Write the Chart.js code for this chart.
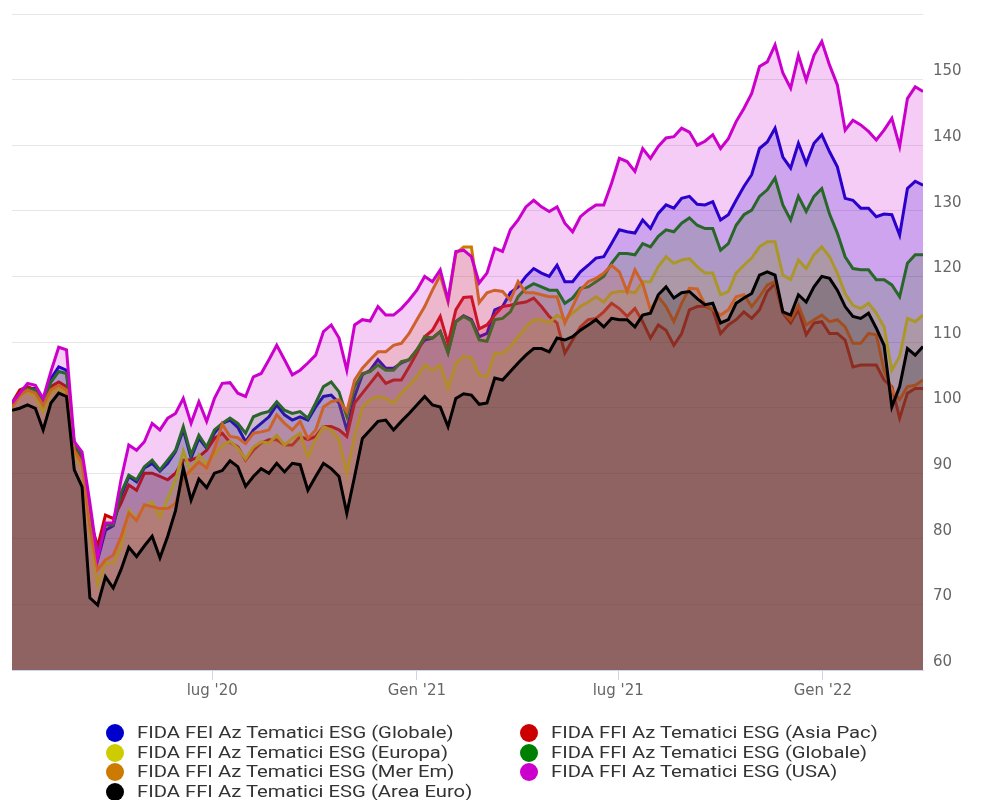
<!DOCTYPE html>
<html>
<head>
<meta charset="utf-8">
<script src="https://cdn.jsdelivr.net/npm/chart.js@4/dist/chart.umd.min.js"></script>
<style>
html,body{margin:0;padding:0;background:#ffffff;}
#wrap{position:relative;width:992px;height:800px;overflow:hidden;}
#c{position:absolute;left:0;top:0;}
#legend{position:absolute;left:0;top:0;width:992px;height:800px;font-family:Roboto,"Liberation Sans",sans-serif;font-size:16px;color:#333333;}
.dot{position:absolute;width:18px;height:18px;border-radius:50%;}
.lbl{position:absolute;white-space:nowrap;line-height:20px;transform:scaleX(1.265);transform-origin:0 50%;}
</style>
</head>
<body>
<div id="wrap">
<canvas id="c" width="992" height="710"></canvas>
<div id="legend"></div>
</div>
<script>
const dates = [
'2020-01-03','2020-01-10','2020-01-17','2020-01-24','2020-01-31','2020-02-07','2020-02-14','2020-02-21','2020-02-28','2020-03-06',
'2020-03-13','2020-03-20','2020-03-27','2020-04-03','2020-04-10','2020-04-17','2020-04-24','2020-05-01','2020-05-08','2020-05-15',
'2020-05-22','2020-05-29','2020-06-05','2020-06-12','2020-06-19','2020-06-26','2020-07-03','2020-07-10','2020-07-17','2020-07-24',
'2020-07-31','2020-08-07','2020-08-14','2020-08-21','2020-08-28','2020-09-04','2020-09-11','2020-09-18','2020-09-25','2020-10-02',
'2020-10-09','2020-10-16','2020-10-23','2020-10-30','2020-11-06','2020-11-13','2020-11-20','2020-11-27','2020-12-04','2020-12-11',
'2020-12-18','2020-12-25','2021-01-01','2021-01-08','2021-01-15','2021-01-22','2021-01-29','2021-02-05','2021-02-12','2021-02-19',
'2021-02-26','2021-03-05','2021-03-12','2021-03-19','2021-03-26','2021-04-02','2021-04-09','2021-04-16','2021-04-23','2021-04-30',
'2021-05-07','2021-05-14','2021-05-21','2021-05-28','2021-06-04','2021-06-11','2021-06-18','2021-06-25','2021-07-02','2021-07-09',
'2021-07-16','2021-07-23','2021-07-30','2021-08-06','2021-08-13','2021-08-20','2021-08-27','2021-09-03','2021-09-10','2021-09-17',
'2021-09-24','2021-10-01','2021-10-08','2021-10-15','2021-10-22','2021-10-29','2021-11-05','2021-11-12','2021-11-19','2021-11-26',
'2021-12-03','2021-12-10','2021-12-17','2021-12-24','2021-12-31','2022-01-07','2022-01-14','2022-01-21','2022-01-28','2022-02-04',
'2022-02-11','2022-02-18','2022-02-25','2022-03-04','2022-03-11','2022-03-18','2022-03-25','2022-04-01'
];

const tickDates = ['2020-07-01','2021-01-01','2021-07-01','2022-01-01'];
const tickLabels = ["lug '20", "Gen '21", "lug '21", "Gen '22"];

const seriesNames = [
'FIDA FEI Az Tematici ESG (Globale)',
'FIDA FFI Az Tematici ESG (Asia Pac)',
'FIDA FFI Az Tematici ESG (Europa)',
'FIDA FFI Az Tematici ESG (Globale)',
'FIDA FFI Az Tematici ESG (Mer Em)',
'FIDA FFI Az Tematici ESG (USA)',
'FIDA FFI Az Tematici ESG (Area Euro)'
];
const seriesColors = ['#0000cc','#cc0000','#cccc00','#008000','#cc7a00','#cc00cc','#000000'];

const feiGlobale = [
100.4,101.9,102.9,102.9,100.9,104.4,106.2,105.7,94.2,92.3,
84.0,76.8,81.3,82.0,86.5,89.5,88.7,90.8,91.5,90.3,
91.5,93.3,96.6,92.3,95.3,93.8,96.1,97.6,98.1,97.0,
94.8,96.6,97.6,98.6,100.4,98.9,98.1,98.6,98.1,100.1,
101.7,101.9,100.7,96.6,101.7,105.0,105.7,107.3,106.0,106.0,
106.8,107.3,108.8,110.3,110.6,111.6,108.5,113.1,114.0,113.4,
110.8,111.3,114.9,115.4,117.5,118.4,120.0,121.2,120.5,120.0,
121.7,119.2,119.2,120.7,121.7,122.8,123.0,125.0,127.1,126.8,
126.6,128.6,127.3,129.6,130.9,130.4,131.9,132.2,131.0,130.9,
131.4,128.6,129.4,131.6,133.7,135.5,139.5,140.5,142.6,138.2,
136.5,140.3,137.2,140.3,141.6,139.0,136.7,131.9,131.6,130.4,
130.4,129.1,129.5,129.4,126.3,133.4,134.5,133.9
];
const asiaPac = [
100.7,102.7,103.2,102.7,100.9,103.2,103.9,103.2,94.0,92.0,
83.0,78.8,83.6,83.1,85.4,88.2,87.4,90.0,90.0,89.5,
89.0,90.0,92.0,92.0,92.5,93.5,95.3,96.1,94.7,94.0,
92.0,93.5,94.6,95.1,95.1,94.3,94.3,95.6,95.1,95.6,
97.1,97.1,96.6,95.6,100.7,102.2,103.7,105.2,103.7,104.2,
104.2,106.2,108.3,110.8,111.8,113.9,109.8,114.9,116.8,116.9,
112.0,112.6,114.1,115.4,115.6,115.9,116.1,116.7,115.4,113.9,
112.9,108.3,110.3,112.3,113.4,113.6,114.6,115.9,115.1,113.9,
115.1,113.1,110.6,112.6,111.8,109.5,111.3,114.9,115.4,115.5,
114.9,111.3,112.6,113.4,114.6,113.6,114.9,117.7,118.9,114.4,
112.9,114.9,111.1,112.9,113.1,111.3,111.3,110.3,106.2,106.5,
106.5,106.5,104.2,103.2,98.4,102.2,102.9,102.9
];
const europa = [
100.0,101.7,102.4,101.7,99.4,102.2,102.9,102.2,93.0,90.8,
81.0,73.0,76.3,76.3,78.8,84.4,83.0,85.0,85.6,83.3,
86.2,88.9,93.4,90.2,92.8,91.4,92.9,94.2,94.9,93.8,
92.2,94.0,94.8,94.6,95.8,94.3,95.3,96.1,92.5,95.1,
97.1,96.6,95.1,90.0,95.6,100.1,101.2,101.7,101.4,100.7,
102.2,103.4,104.7,106.5,105.7,106.5,102.9,106.8,107.8,107.6,
105.0,104.7,108.3,108.3,109.3,110.8,112.3,113.4,113.4,112.9,
114.1,113.4,114.4,115.4,116.1,116.9,116.1,117.5,117.7,117.7,
117.5,119.2,119.2,121.5,123.0,122.0,122.5,122.7,121.5,120.5,
120.5,117.2,117.7,120.5,121.7,122.8,124.5,125.3,125.3,120.2,
119.5,122.5,121.2,123.3,124.5,123.0,120.5,117.4,115.6,115.1,
115.9,114.4,112.3,105.7,107.8,113.6,113.1,114.1
];
const ffiGlobale = [
100.4,102.2,102.9,102.7,100.7,103.9,105.5,105.2,94.5,92.5,
83.5,77.5,82.1,82.1,87.0,89.7,89.0,91.0,92.0,90.5,
92.0,93.5,97.1,92.8,95.8,94.0,96.6,97.6,98.4,97.6,
96.1,98.6,99.1,99.4,100.9,99.6,99.1,99.4,98.4,100.7,
103.2,103.9,102.4,98.6,103.2,105.2,105.5,106.5,105.7,105.7,
107.0,107.3,108.8,110.8,110.6,111.6,108.3,113.1,113.9,113.2,
110.3,110.1,113.4,113.6,114.6,116.9,118.2,118.9,118.4,117.9,
117.9,115.9,116.7,118.2,118.4,119.2,120.0,122.0,123.5,123.5,
123.3,125.0,124.5,126.1,127.1,126.8,128.1,128.9,127.8,127.3,
127.3,124.0,125.0,127.8,129.4,130.1,132.2,133.2,135.0,130.9,
128.6,132.2,129.9,132.2,133.4,129.5,126.6,123.0,121.2,121.0,
121.0,119.5,119.5,118.7,116.9,122.0,123.3,123.3
];
const merEm = [
100.0,101.9,102.7,102.2,100.4,102.7,103.4,102.7,93.5,91.5,
82.0,75.3,76.8,77.5,80.3,83.9,82.8,85.2,84.9,84.6,
84.6,85.4,89.3,90.5,91.7,90.8,93.7,97.5,95.6,95.4,
94.5,96.1,96.3,96.6,98.9,97.6,96.6,97.9,95.3,96.6,
100.1,100.9,101.2,99.4,104.2,106.0,107.3,108.5,108.5,109.5,
109.8,111.3,113.4,115.4,117.9,120.2,116.1,123.5,124.5,124.5,
116.0,117.5,117.9,117.7,116.4,119.2,117.5,117.5,117.2,116.9,
116.9,112.9,115.4,117.9,119.2,119.7,120.5,121.7,120.7,117.7,
121.0,118.9,114.9,116.9,115.4,113.1,115.9,118.2,118.1,115.7,
114.9,114.1,114.9,116.9,117.2,115.4,116.9,118.7,119.2,114.6,
113.4,115.6,112.6,113.4,114.1,113.1,113.4,112.3,109.8,109.8,
111.3,111.1,105.7,102.7,101.2,103.2,103.4,104.2
];
const usa = [
100.7,102.2,103.7,103.4,101.4,105.5,109.2,108.8,94.8,93.2,
85.5,77.0,82.4,82.4,89.0,94.3,93.5,94.8,97.6,96.6,
98.4,99.1,101.4,97.6,100.9,97.9,101.4,103.7,103.8,102.2,
101.7,104.7,105.2,107.3,109.5,107.3,105.0,105.7,106.8,108.0,
111.6,112.6,110.6,105.7,112.6,113.4,113.2,115.4,114.1,114.1,
115.1,116.4,117.9,120.0,119.2,121.0,116.4,123.8,124.0,123.0,
119.0,120.5,124.3,123.8,127.1,128.6,130.6,131.6,130.6,129.9,
130.6,128.1,126.8,129.1,130.1,130.9,130.9,134.2,138.0,137.5,
136.0,139.5,138.0,139.8,141.1,141.3,142.6,142.0,140.0,140.6,
141.6,139.5,141.0,143.6,145.6,147.9,152.0,152.7,155.3,151.0,
148.7,153.7,149.9,153.7,155.8,152.2,149.2,142.3,143.8,143.1,
142.1,140.8,142.3,144.1,139.8,147.1,148.9,148.2
];
const areaEuro = [
99.6,99.9,100.4,99.9,96.6,100.7,102.2,101.7,90.5,87.9,
71.0,69.9,74.2,72.5,75.3,78.7,77.3,78.9,80.4,77.1,
80.4,84.3,90.8,85.9,89.1,87.8,90.0,90.4,91.9,91.0,
88.0,89.5,90.7,90.0,91.5,90.2,91.5,91.3,87.4,89.5,
91.5,90.7,89.5,83.9,89.5,95.3,96.6,97.9,98.1,96.6,
97.9,99.1,100.4,101.7,100.4,100.1,97.1,101.4,102.1,101.9,
100.5,100.7,104.5,104.2,105.5,106.8,108.0,109.0,109.0,108.5,
110.6,110.3,110.8,111.8,112.6,113.4,112.3,113.6,113.4,113.4,
112.3,114.1,114.4,117.2,118.4,116.7,117.5,117.7,116.6,115.7,
115.9,112.9,113.4,115.9,116.7,117.4,120.2,120.7,120.2,114.6,
114.1,117.2,116.1,118.4,120.0,119.7,117.9,115.4,113.9,113.6,
114.4,112.1,109.5,100.1,103.2,109.0,108.0,109.3
];

const seriesValues = [feiGlobale, asiaPac, europa, ffiGlobale, merEm, usa, areaEuro];

const DAY = 86400000;
const t0 = Date.parse(dates[0]);
const dayOf = d => (Date.parse(d) - t0) / DAY;
const xs = dates.map(dayOf);
const tickXs = tickDates.map(dayOf);

function rgba(hex, a) {
  const n = parseInt(hex.slice(1), 16);
  return 'rgba(' + ((n >> 16) & 255) + ',' + ((n >> 8) & 255) + ',' + (n & 255) + ',' + a + ')';
}

const datasets = seriesValues.map((vals, k) => ({
  label: seriesNames[k],
  data: vals.map((v, i) => ({ x: xs[i], y: v })),
  borderColor: seriesColors[k],
  backgroundColor: rgba(seriesColors[k], 0.2),
  borderWidth: 3,
  pointRadius: 0,
  pointHoverRadius: 0,
  tension: 0,
  fill: 'start',
  order: seriesValues.length - 1 - k
}));

new Chart(document.getElementById('c'), {
  type: 'line',
  data: { datasets },
  options: {
    responsive: false,
    animation: false,
    devicePixelRatio: 1,
    events: [],
    layout: { padding: { left: 12, top: 14, right: 0, bottom: 0 } },
    plugins: { legend: { display: false }, tooltip: { enabled: false } },
    scales: {
      x: {
        type: 'linear',
        min: xs[0],
        max: xs[xs.length - 1],
        afterBuildTicks: s => { s.ticks = tickXs.map(v => ({ value: v })); },
        afterFit: s => { s.height = 40; s.paddingLeft = 0; s.paddingRight = 0; },
        grid: { drawOnChartArea: false, drawTicks: true, tickLength: 10, color: '#ccd6eb', lineWidth: 1 },
        border: { display: true, color: '#ccd6eb', width: 1 },
        ticks: {
          autoSkip: false, maxRotation: 0, padding: 2,
          color: '#666666',
          font: { family: '"DejaVu Sans"', size: 15 },
          callback: (v, i) => tickLabels[i]
        }
      },
      y: {
        position: 'right',
        min: 60,
        max: 160,
        afterFit: s => { s.width = 69; s.paddingTop = 0; s.paddingBottom = 0; },
        grid: { color: '#e6e6e6', lineWidth: 1, drawTicks: false },
        border: { display: false },
        ticks: {
          stepSize: 10,
          padding: 10,
          labelOffset: -8,
          color: '#666666',
          font: { family: '"DejaVu Sans"', size: 15 },
          callback: v => (v >= 160 ? '' : String(v))
        }
      }
    }
  }
});

// HTML legend (two columns, as in the original)
const legend = document.getElementById('legend');
seriesNames.forEach((name, k) => {
  const col = k % 2, row = Math.floor(k / 2);
  const cy = 733 + row * 19.5;
  const dot = document.createElement('div');
  dot.className = 'dot';
  dot.style.background = seriesColors[k];
  dot.style.left = (col === 0 ? 106 : 520) + 'px';
  dot.style.top = (cy - 9) + 'px';
  legend.appendChild(dot);
  const lbl = document.createElement('div');
  lbl.className = 'lbl';
  lbl.textContent = name;
  lbl.style.left = (col === 0 ? 137 : 551) + 'px';
  lbl.style.top = (cy - 10) + 'px';
  legend.appendChild(lbl);
});
</script>
</body>
</html>
